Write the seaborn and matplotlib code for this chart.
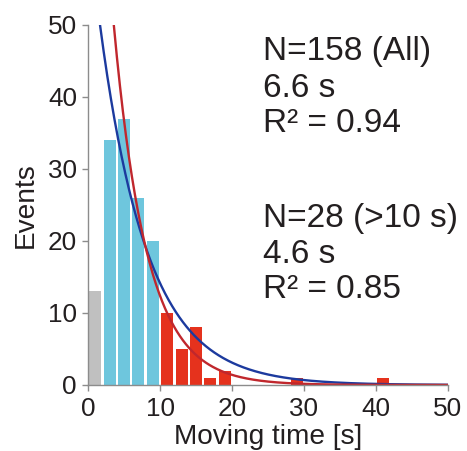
import numpy as np
import pandas as pd
import matplotlib
matplotlib.use("Agg")
import matplotlib.pyplot as plt
import seaborn as sns

# ---- data ----
bin_centers = [1, 3, 5, 7, 9, 11, 13, 15, 17, 19, 29, 41]
counts      = [13, 34, 37, 26, 20, 10, 5, 8, 1, 2, 1, 1]
groups      = ["short", "mid", "mid", "mid", "mid",
               "long", "long", "long", "long", "long", "long", "long"]

fit_all_amp, fit_all_tau = 64.4, 6.6
fit_long_amp, fit_long_tau = 109.0, 4.6

block1 = ["N=158 (All)", "6.6 s", "R\u00b2 = 0.94"]
block2 = ["N=28 (>10 s)", "4.6 s", "R\u00b2 = 0.85"]

x_ticks = [0, 10, 20, 30, 40, 50]
y_ticks = [0, 10, 20, 30, 40, 50]

# ---- style ----
sns.set_style("white")
plt.rcParams["font.family"] = ["Liberation Sans", "DejaVu Sans"]
text_color = "#231f20"
spine_color = "#8c8c8c"
palette = {"short": "#c0c0c0", "mid": "#6ec6dd", "long": "#e5321d"}

fig = plt.figure(figsize=(4.67, 4.51), dpi=100)
ax = fig.add_axes([88 / 467, 66 / 451, 360 / 467, 360 / 451])

df = pd.DataFrame({"t": bin_centers, "n": counts, "g": groups})
sns.barplot(data=df, x="t", y="n", hue="g", palette=palette, native_scale=True,
            dodge=False, width=0.82, legend=False, ax=ax, saturation=1,
            edgecolor="none", linewidth=0)

t = np.linspace(0.01, 50, 600)
curves = pd.DataFrame({
    "t": np.concatenate([t, t]),
    "y": np.concatenate([fit_all_amp * np.exp(-t / fit_all_tau),
                         fit_long_amp * np.exp(-t / fit_long_tau)]),
    "fit": ["all"] * len(t) + ["long"] * len(t),
})
sns.lineplot(data=curves, x="t", y="y", hue="fit",
             palette={"all": "#1c3a9e", "long": "#c0272d"},
             linewidth=1.7, legend=False, ax=ax, sort=False)

ax.set_xlim(0, 50)
ax.set_ylim(0, 50)
ax.set_xticks(x_ticks)
ax.set_yticks(y_ticks)
ax.set_xlabel("Moving time [s]", fontsize=20.2, color=text_color, labelpad=2)
ax.set_ylabel("Events", fontsize=20.2, color=text_color, labelpad=6.5)
ax.tick_params(axis="both", direction="out", length=4.5, width=1,
               bottom=True, left=True,
               color=spine_color, labelsize=18.8, labelcolor=text_color)
ax.tick_params(axis="x", pad=4.5)
ax.tick_params(axis="y", pad=3.5)
for s in ["top", "right"]:
    ax.spines[s].set_visible(False)
for s in ["left", "bottom"]:
    ax.spines[s].set_color(spine_color)
    ax.spines[s].set_linewidth(1)

for txt, yb in zip(block1, [45.1, 40.0, 35.2]):
    ax.text(24.3, yb, txt, fontsize=24, color=text_color, va="baseline", ha="left")
for txt, yb in zip(block2, [22.0, 17.0, 12.1]):
    ax.text(24.3, yb, txt, fontsize=24, color=text_color, va="baseline", ha="left")

fig.savefig("out.png", dpi=100)
